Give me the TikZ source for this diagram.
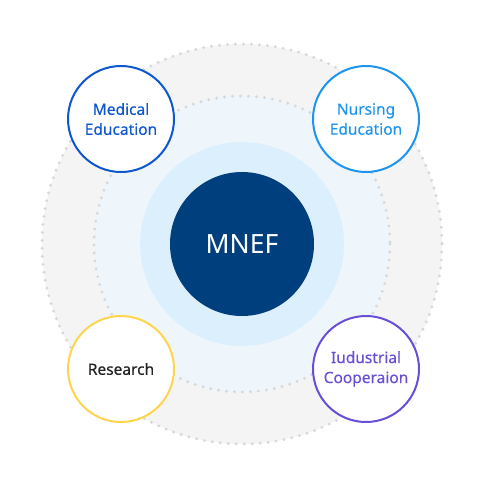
\documentclass[tikz,border=0pt]{standalone}
\usepackage{fontspec}
\setmainfont{Noto Sans}
\newfontfamily\labelfont[FakeBold=0.35]{Noto Sans}
\definecolor{outerfill}{HTML}{F4F4F4}
\definecolor{dotgray}{HTML}{D8D8D8}
\definecolor{midfill}{HTML}{EEF6FC}
\definecolor{innerfill}{HTML}{DCEFFC}
\definecolor{core}{HTML}{003F7D}
\definecolor{cmed}{HTML}{0E57CF}
\definecolor{cnur}{HTML}{1D95EE}
\definecolor{cres}{HTML}{FDD54E}
\definecolor{cresT}{HTML}{222222}
\definecolor{cind}{HTML}{6A4FD6}
\begin{document}
\begin{tikzpicture}[x=1pt,y=-1pt,
  dotring/.style={draw=dotgray,line width=3.2pt,line cap=round,dash pattern=on 0pt off 8pt},
  satellite/.style={circle,draw,line width=2pt,fill=white,minimum size=106pt,inner sep=0pt,align=center,font=\labelfont\fontsize{15.5}{20}\selectfont}]
\useasboundingbox (0,0) rectangle (485,488);
\fill[white] (0,0) rectangle (485,488);
\coordinate (c) at (242,244);
\fill[outerfill] (c) circle (200);
\draw[dotring] (c) circle (200);
\fill[midfill] (c) circle (148);
\draw[dotring] (c) circle (148);
\fill[innerfill] (c) circle (102);
\node[circle,fill=core,minimum size=144pt,inner sep=0pt,text=white,font=\fontsize{26.5}{30}\selectfont] (mnef) at (c) {MNEF};
\node[satellite,draw=cmed,text=cmed] (med) at (121,119) {Medical\\Education};
\node[satellite,draw=cnur,text=cnur] (nur) at (366,119) {Nursing\\Education};
\node[satellite,draw=cres,text=cresT] (res) at (121,369) {Research};
\node[satellite,draw=cind,text=cind] (ind) at (366,369) {Iudustrial\\Cooperaion};
\end{tikzpicture}
\end{document}
